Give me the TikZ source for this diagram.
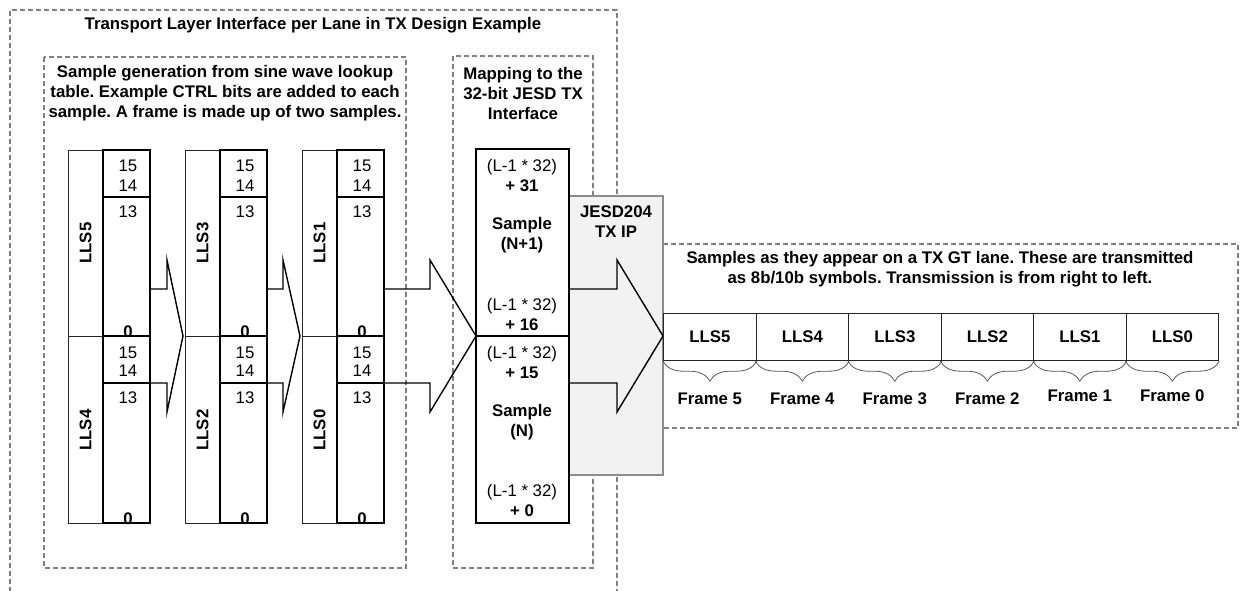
\documentclass[tikz,border=0pt]{standalone}
\usepackage{fontspec}
\setmainfont{Liberation Sans}
\usetikzlibrary{decorations.pathreplacing}
\definecolor{dashgray}{RGB}{128,128,128}
\definecolor{ipgray}{RGB}{242,242,242}
\frenchspacing

% block arrow: shaft start x, head start x, tip x
\newcommand{\fatarrow}[3]{%
  \draw[arrowline] (#1,289) -- (#2,289) -- (#2,260) -- (#3,336) -- (#2,412) -- (#2,383) -- (#1,383);}

% one column of two samples: left x, upper lane, lower lane, name
\newcommand{\samplecol}[4]{%
  \draw[thinline] (#1+35,150) -- (#1,150) -- (#1,523) -- (#1+35,523);
  \draw[thinline] (#1,336) -- (#1+35,336);
  \draw[thickbox] (#1+35,150) rectangle (#1+82,197);
  \draw[thickbox] (#1+35,197) rectangle (#1+82,336);
  \draw[thickbox] (#1+35,336) rectangle (#1+82,383);
  \draw[thickbox] (#1+35,383) rectangle (#1+82,523);
  \node[lbl, rotate=90] (#4up) at (#1+17.5,243) {LLS#2};
  \node[lbl, rotate=90] (#4lo) at (#1+17.5,430) {LLS#3};
  \node[num] (#4a) at (#1+60,166) {15};
  \node[num] (#4b) at (#1+60,186) {14};
  \node[num] (#4c) at (#1+60,212) {13};
  \node[lbl, anchor=base] (#4d) at (#1+60,337) {0};
  \node[num] (#4e) at (#1+60,353) {15};
  \node[num] (#4f) at (#1+60,371) {14};
  \node[num] (#4g) at (#1+60,398) {13};
  \node[lbl, anchor=base] (#4h) at (#1+60,524) {0};}

\begin{document}
\begin{tikzpicture}[x=0.5pt, y=-0.5pt,
    font=\fontsize{8.4}{10}\selectfont,
    dashbox/.style={draw=dashgray, line width=0.75pt, dash pattern=on 2.5pt off 1.5pt},
    thinline/.style={draw=black!85, line width=0.5pt},
    thickbox/.style={draw=black, line width=1.1pt},
    arrowline/.style={draw=black, line width=0.7pt, line join=miter},
    lbl/.style={font=\fontsize{8.4}{10}\selectfont\bfseries, inner sep=0pt},
    num/.style={inner sep=0pt},
    heading/.style={font=\fontsize{8.4}{10}\selectfont\bfseries, align=center, inner sep=0pt},
    cell/.style={draw=black!85, line width=0.6pt, minimum width=46.25pt, minimum height=23.5pt, inner sep=0pt, font=\fontsize{8.4}{10}\selectfont\bfseries},
    framebrace/.style={draw=black!65, line width=0.4pt, decorate, decoration={brace, mirror, amplitude=10pt}}]
  \useasboundingbox (0,0) rectangle (1248,590);

  % Dashed groups
  \draw[dashbox] (10,592) -- (10,10) -- (617,10) -- (617,592);
  \draw[dashbox] (44,57) rectangle (406,568);
  \draw[dashbox] (453,56) rectangle (593,568);
  \draw[dashbox] (640,244) rectangle (1238,428);

  \node[heading] (title) at (313,25) {Transport Layer Interface per Lane in TX Design Example};
  \node[heading] (gentext) at (225,93) {Sample generation from sine wave lookup\\table. Example CTRL bits are added to each\\sample. A frame is made up of two samples.};
  \node[heading] (maptext) at (523,93) {Mapping to the\\32-bit JESD TX\\Interface};

  % JESD204 TX IP
  \draw[draw=black!45, line width=0.6pt, fill=ipgray] (569,196) rectangle (663,475);
  \node[heading] (ip) at (616,222) {JESD204\\TX IP};

  % Sample columns
  \samplecol{68}{5}{4}{c1}
  \samplecol{185}{3}{2}{c2}
  \samplecol{302}{1}{0}{c3}

  % Arrows
  \fatarrow{150}{167}{183}
  \fatarrow{267}{283}{300}
  \fatarrow{383}{430}{476}
  \fatarrow{569}{617}{663}

  % 32-bit mapping
  \draw[thickbox] (476,149) rectangle (569,336);
  \draw[thickbox] (476,336) rectangle (569,523);
  \node[align=center, inner sep=0pt] (m31) at (522,176) {(L-1 * 32)\\\textbf{+ 31}};
  \node[heading] (sn1) at (522,235) {Sample\\(N+1)};
  \node[align=center, inner sep=0pt] (m16) at (522,314) {(L-1 * 32)\\\textbf{+ 16}};
  \node[align=center, inner sep=0pt] (m15) at (522,362) {(L-1 * 32)\\\textbf{+ 15}};
  \node[heading] (sn) at (522,422) {Sample\\(N)};
  \node[align=center, inner sep=0pt] (m0) at (522,500) {(L-1 * 32)\\\textbf{+ 0}};

  % Lane samples
  \node[heading] (lanetext) at (940,269) {Samples as they appear on a TX GT lane. These are transmitted\\as 8b/10b symbols. Transmission is from right to left.};
  \foreach \i/\k in {0/5,1/4,2/3,3/2,4/1,5/0} {
    \node[cell, anchor=north west] (lane\k) at (663+92.5*\i,313) {LLS\k};
    \draw[framebrace] (lane\k.south west) -- (lane\k.south east);
  }
  \foreach \k/\dy in {5/0,4/0,3/0,2/0,1/-3,0/-3} {
    \node[lbl] (frame\k) at ([yshift=-\dy*0.5pt]lane\k.south |- 0,399) {Frame \k};
  }
\end{tikzpicture}
\end{document}
